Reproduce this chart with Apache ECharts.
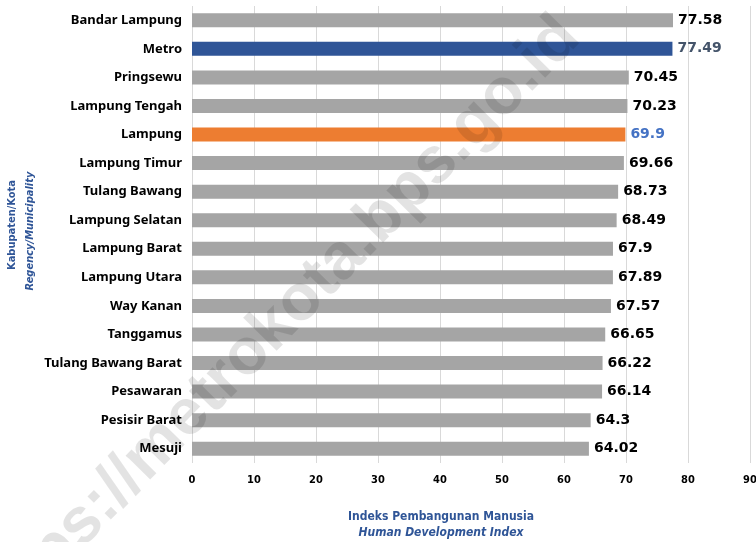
<!DOCTYPE html>
<html>
<head>
<meta charset="utf-8">
<script src="https://cdn.jsdelivr.net/npm/echarts@6/dist/echarts.min.js"></script>
<style>
  html, body { margin: 0; padding: 0; background: #fff; overflow: hidden; }
  #chart { width: 756px; height: 542px; }
</style>
</head>
<body>
<div id="chart"></div>
<script>
// Human Development Index by regency/municipality, Lampung province
const regions = [
  'Bandar Lampung', 'Metro', 'Pringsewu', 'Lampung Tengah', 'Lampung',
  'Lampung Timur', 'Tulang Bawang', 'Lampung Selatan', 'Lampung Barat',
  'Lampung Utara', 'Way Kanan', 'Tanggamus', 'Tulang Bawang Barat',
  'Pesawaran', 'Pesisir Barat', 'Mesuji'
];
const hdiValues = [
  77.58, 77.49, 70.45, 70.23, 69.9,
  69.66, 68.73, 68.49, 67.9,
  67.89, 67.57, 66.65, 66.22,
  66.14, 64.3, 64.02
];
const xTicks = [0, 10, 20, 30, 40, 50, 60, 70, 80, 90];

const GRAY = '#A5A5A5';
const BLUE = '#2F5597';
const ORANGE = '#ED7D31';
const TITLE_BLUE = '#2F5597';
const condensed = '"Liberation Sans Narrow", "DejaVu Sans Condensed", "Noto Sans", sans-serif';

function barStyle(name) {
  if (name === 'Metro') return { color: BLUE, label: '#44546A' };
  if (name === 'Lampung') return { color: ORANGE, label: '#4472C4' };
  return { color: GRAY, label: '#000000' };
}

const seriesData = regions.map((name, i) => {
  const s = barStyle(name);
  return {
    value: hdiValues[i],
    itemStyle: { color: s.color },
    label: { color: s.label }
  };
});

const chart = echarts.init(document.getElementById('chart'), null, { renderer: 'canvas' });
chart.setOption({
  animation: false,
  backgroundColor: '#ffffff',
  grid: {
    left: 192, right: 6, top: 6, bottom: 79,
    containLabel: false,
    outerBoundsMode: 'none'
  },
  xAxis: {
    type: 'value',
    min: xTicks[0],
    max: xTicks[xTicks.length - 1],
    interval: xTicks[1] - xTicks[0],
    axisLine: { show: false },
    axisTick: { show: false },
    splitLine: { lineStyle: { color: '#D9D9D9', width: 1 } },
    axisLabel: {
      margin: 12,
      color: '#000',
      fontFamily: condensed,
      fontWeight: 'bold',
      fontSize: 11
    }
  },
  yAxis: {
    type: 'category',
    data: regions,
    inverse: true,
    axisLine: { show: false },
    axisTick: { show: false },
    axisLabel: {
      margin: 10,
      color: '#000',
      fontFamily: '"Noto Sans", sans-serif',
      fontWeight: 'bold',
      fontSize: 13
    }
  },
  series: [{
    type: 'bar',
    data: seriesData,
    barWidth: 14,
    label: {
      show: true,
      position: 'right',
      distance: 5,
      fontFamily: '"DejaVu Sans", sans-serif',
      fontWeight: 'bold',
      fontSize: 14,
      formatter: p => String(p.value)
    }
  }],
  graphic: [
    {
      type: 'text',
      x: 441,
      y: 517,
      style: {
        text: 'Indeks Pembangunan Manusia',
        fill: TITLE_BLUE,
        font: 'bold 12px ' + condensed,
        align: 'center',
        verticalAlign: 'middle'
      }
    },
    {
      type: 'text',
      x: 441,
      y: 533,
      style: {
        text: 'Human Development Index',
        fill: TITLE_BLUE,
        font: 'italic bold 12px ' + condensed,
        align: 'center',
        verticalAlign: 'middle'
      }
    },
    {
      type: 'text',
      x: 12,
      y: 225,
      rotation: Math.PI / 2,
      style: {
        text: 'Kabupaten/Kota',
        fill: TITLE_BLUE,
        font: 'bold 11px ' + condensed,
        align: 'center',
        verticalAlign: 'middle'
      }
    },
    {
      type: 'text',
      x: 30,
      y: 231,
      rotation: Math.PI / 2,
      style: {
        text: 'Regency/Municipality',
        fill: TITLE_BLUE,
        font: 'italic bold 11px ' + condensed,
        align: 'center',
        verticalAlign: 'middle'
      }
    },
    {
      type: 'text',
      x: 276,
      y: 326,
      rotation: 0.794,
      z: 100,
      silent: true,
      style: {
        text: 'https://metrokota.bps.go.id',
        fill: 'rgba(0,0,0,0.11)',
        font: 'bold 65px "Liberation Sans", Arial, sans-serif',
        align: 'center',
        verticalAlign: 'middle'
      }
    }
  ]
});
</script>
</body>
</html>
